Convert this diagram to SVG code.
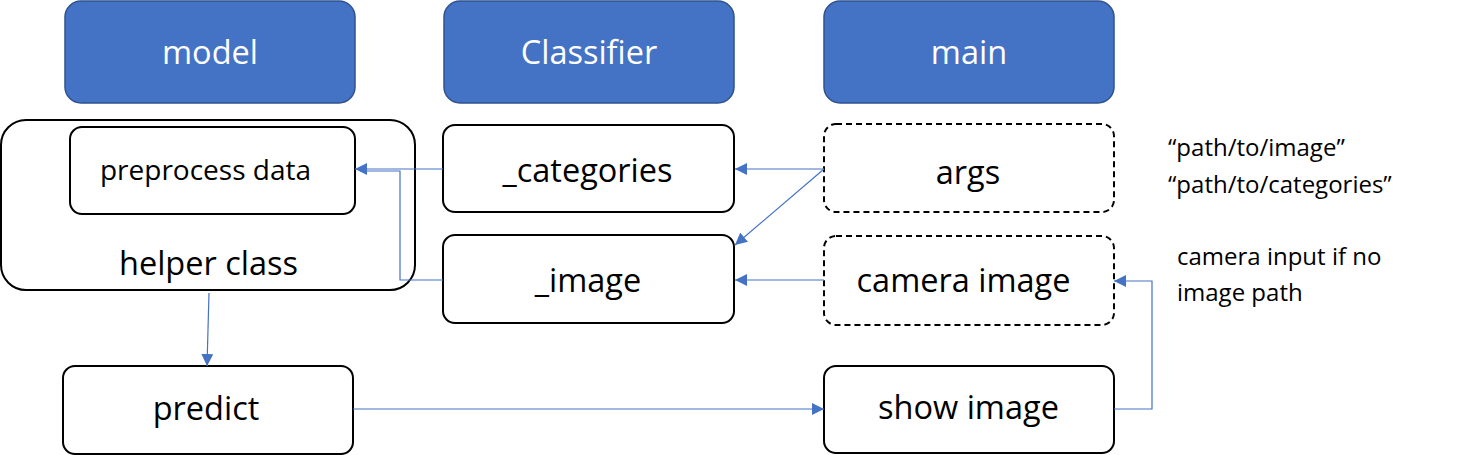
<svg xmlns="http://www.w3.org/2000/svg" width="1477" height="455" viewBox="0 0 1477 455">
<style>
.hdr{fill:#4472C4;stroke:#2F528F;stroke-width:1.5}
.box{fill:#fff;stroke:#000;stroke-width:2}
.dash{fill:#fff;stroke:#000;stroke-width:2;stroke-dasharray:6,4}
.ht{font-family:"Open Sans",sans-serif;font-size:32.5px;fill:#fff;text-anchor:middle}
.bt{font-family:"Open Sans",sans-serif;font-size:32.5px;fill:#000;text-anchor:middle}
.st{font-family:"Open Sans",sans-serif;font-size:28px;fill:#000;text-anchor:middle}
.nt{font-family:"Open Sans",sans-serif;font-size:24px;fill:#000}
.c{fill:none;stroke:#4472C4;stroke-width:1.2}
</style>
<defs>
<marker id="ah" viewBox="0 0 12 12" refX="12" refY="6" markerWidth="12" markerHeight="12" markerUnits="userSpaceOnUse" orient="auto">
<path d="M0,0 L12,6 L0,12 z" fill="#4472C4"/>
</marker>
</defs>
<g id="model"><rect class="hdr" x="65" y="1" width="290" height="102" rx="16"/><text class="ht" x="210" y="64">model</text></g>
<g id="classifier"><rect class="hdr" x="444" y="1" width="290" height="102" rx="16"/><text class="ht" x="589" y="64">Classifier</text></g>
<g id="main"><rect class="hdr" x="824" y="1" width="290" height="102" rx="16"/><text class="ht" x="969" y="64">main</text></g>
<g id="helper"><rect class="box" x="1" y="120" width="414" height="170" rx="25"/><text class="bt" x="208.5" y="275">helper class</text></g>
<g id="preprocess"><rect class="box" x="70" y="127" width="285" height="87" rx="12"/><text class="st" x="205.5" y="180">preprocess data</text></g>
<g id="categories"><rect class="box" x="443" y="125" width="291" height="87" rx="12"/><text class="bt" x="587.5" y="182">_categories</text></g>
<g id="image"><rect class="box" x="443" y="235" width="291" height="88" rx="12"/><text class="bt" x="588" y="292">_image</text></g>
<g id="args"><rect class="dash" x="824" y="124" width="290" height="88" rx="12"/><text class="bt" x="968" y="184">args</text></g>
<g id="camera"><rect class="dash" x="824" y="236" width="290" height="89" rx="12"/><text class="bt" x="963.5" y="292">camera image</text></g>
<g id="predict"><rect class="box" x="63" y="366" width="290" height="88" rx="12"/><text class="bt" x="206" y="420">predict</text></g>
<g id="show"><rect class="box" x="824" y="366" width="290" height="87" rx="12"/><text class="bt" x="968.5" y="419">show image</text></g>
<g id="notes">
<text class="nt" x="1168" y="156">“path/to/image”</text>
<text class="nt" x="1168" y="193">“path/to/categories”</text>
<text class="nt" x="1177" y="265">camera input if no</text>
<text class="nt" x="1177" y="301">image path</text>
</g>
<g id="connectors">
<path class="c" d="M443,169 L355,169" marker-end="url(#ah)"/>
<path class="c" d="M443,280 L400,280 L400,171 L360,171"/>
<path class="c" d="M824,169 L735,245" marker-end="url(#ah)"/>
<path class="c" d="M824,169 L735,169" marker-end="url(#ah)"/>
<path class="c" d="M824,280 L735,280" marker-end="url(#ah)"/>
<path class="c" d="M209,293 L207,366" marker-end="url(#ah)"/>
<path class="c" d="M353,409 L824,409" marker-end="url(#ah)"/>
<path class="c" d="M1114,409 L1152,409 L1152,281 L1114,281" marker-end="url(#ah)"/>
</g>
</svg>
